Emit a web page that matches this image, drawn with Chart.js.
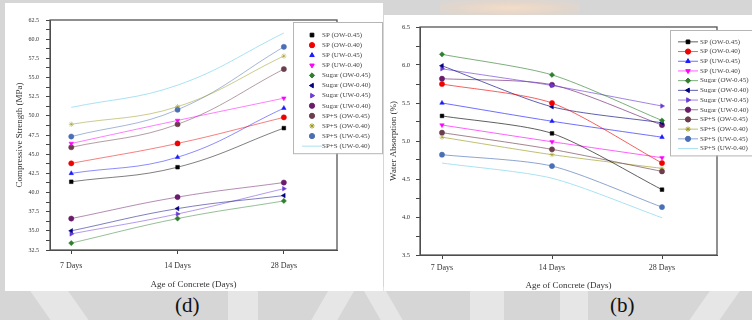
<!DOCTYPE html>
<html>
<head>
<meta charset="utf-8">
<script src="https://cdn.jsdelivr.net/npm/chart.js@4.4.1/dist/chart.umd.min.js"></script>
<style>
  html, body { margin: 0; padding: 0; }
  body {
    width: 752px; height: 320px; position: relative; overflow: hidden;
    background: #d6d6d6;
    font-family: "Liberation Serif", serif;
  }
  .wm { position: absolute; background: #e6e6e6; }
  .panel { position: absolute; background: #fff; }
  #leftPanel  { left: 5px;   top: 3px;  width: 378px; height: 288px; }
  #rightPanel { left: 384px; top: 15px; width: 368px; height: 276px; }
  .cap { position: absolute; top: 292px; font-size: 21px; line-height: 26px; color: #111; }
</style>
</head>
<body>
<!-- faint watermark behind the panels -->
<div class="wm" style="left:40px;top:270px;width:38px;height:70px;transform:skewX(35deg)"></div>
<div class="wm" style="left:228px;top:280px;width:30px;height:60px;"></div>
<div class="wm" style="left:320px;top:270px;width:26px;height:70px;transform:skewX(-30deg)"></div>
<div class="wm" style="left:372px;top:270px;width:22px;height:70px;transform:skewX(30deg)"></div>
<div class="wm" style="left:470px;top:280px;width:34px;height:60px;"></div>
<div class="wm" style="left:560px;top:280px;width:28px;height:60px;"></div>
<div class="wm" style="left:700px;top:270px;width:30px;height:70px;transform:skewX(-35deg)"></div>
<div class="wm" style="left:440px;top:0px;width:140px;height:16px;background:radial-gradient(ellipse at center,#f3dcc6 0%,#e2d6cc 55%,rgba(214,214,214,0) 100%)"></div>

<div class="panel" id="leftPanel"><canvas id="strengthChart" width="378" height="288"></canvas></div>
<div class="panel" id="rightPanel"><canvas id="absorptionChart" width="368" height="276"></canvas></div>
<div class="cap" style="left:175px">(d)</div>
<div class="cap" style="left:610px">(b)</div>

<script>
// ---- data ----
const ages = ['7 Days', '14 Days', '28 Days'];
const mixNames = [
  'SP (OW-0.45)', 'SP (OW-0.40)', 'SP (UW-0.45)', 'SP (UW-0.40)',
  'Sugar (OW-0.45)', 'Sugar (OW-0.40)', 'Sugar (UW-0.45)', 'Sugar (UW-0.40)',
  'SP+S (OW-0.45)', 'SP+S (OW-0.40)', 'SP+S (UW-0.45)', 'SP+S (UW-0.40)'
];

// compressive strength (MPa)
const csSP_OW45    = [41.4, 43.3, 48.4];
const csSP_OW40    = [43.8, 46.4, 49.8];
const csSP_UW45    = [42.5, 44.6, 51.0];
const csSP_UW40    = [46.4, 49.4, 52.3];
const csSug_OW45   = [33.4, 36.6, 38.9];
const csSug_OW40   = [35.0, 37.9, 39.6];
const csSug_UW45   = [34.6, 37.2, 40.5];
const csSug_UW40   = [36.6, 39.4, 41.3];
const csSPS_OW45   = [45.9, 48.9, 56.1];
const csSPS_OW40   = [48.9, 51.2, 57.8];
const csSPS_UW45   = [47.3, 50.8, 59.0];
const csSPS_UW40   = [51.1, 54.0, 60.8];

// water absorption (%)
const waSP_OW45    = [5.33, 5.10, 4.36];
const waSP_OW40    = [5.75, 5.50, 4.71];
const waSP_UW45    = [5.50, 5.26, 5.05];
const waSP_UW40    = [5.21, 4.99, 4.78];
const waSug_OW45   = [6.14, 5.87, 5.27];
const waSug_OW40   = [5.99, 5.45, 5.24];
const waSug_UW45   = [5.95, 5.73, 5.46];
const waSug_UW40   = [5.82, 5.74, 5.21];
const waSPS_OW45   = [5.11, 4.89, 4.60];
const waSPS_OW40   = [5.05, 4.82, 4.64];
const waSPS_UW45   = [4.82, 4.67, 4.13];
const waSPS_UW40   = [4.71, 4.51, 3.99];

const strengthSeries = [csSP_OW45, csSP_OW40, csSP_UW45, csSP_UW40, csSug_OW45, csSug_OW40,
  csSug_UW45, csSug_UW40, csSPS_OW45, csSPS_OW40, csSPS_UW45, csSPS_UW40];
const absorptionSeries = [waSP_OW45, waSP_OW40, waSP_UW45, waSP_UW40, waSug_OW45, waSug_OW40,
  waSug_UW45, waSug_UW40, waSPS_OW45, waSPS_OW40, waSPS_UW45, waSPS_UW40];

// ---- styles ----
const colors = ['#000000', '#f00000', '#1a1aff', '#ff00ff', '#2f7f2f', '#000080',
  '#6a3ad6', '#6a1b6a', '#6b3d4d', '#9a9a20', '#4a6fb5', '#a9e2f2'];
const markers = ['rect', 'circle', 'triangle', 'triangle', 'rectRot', 'triangle',
  'triangle', 'circle', 'circle', 'star', 'circle', 'circle'];
const markerTurn = [0, 0, 0, 180, 0, 270, 90, 0, 0, 0, 0, 0];
const serif = '"Liberation Serif", "Times New Roman", serif';

function buildSets(series, lineAlpha, tension) {
  return series.map((vals, i) => ({
    label: mixNames[i],
    data: vals.map((v, k) => ({ x: k, y: v })),
    borderColor: i === 11 ? colors[i] : colors[i] + lineAlpha,
    borderWidth: 1,
    tension: tension,
    pointStyle: markers[i],
    pointRotation: markerTurn[i],
    pointRadius: i === 11 ? 0 : 2.6,
    pointBackgroundColor: colors[i],
    pointBorderColor: colors[i],
    pointBorderWidth: 0.5
  }));
}

// box round the plot (Origin style)
const frame = {
  id: 'frame',
  afterDatasetsDraw(chart) {
    const { ctx, chartArea: a } = chart;
    ctx.save();
    ctx.strokeStyle = '#555';
    ctx.lineWidth = 1.3;
    ctx.strokeRect(a.left, a.top, a.right - a.left, a.bottom - a.top);
    ctx.restore();
  }
};

// legend drawn over the plot like the original
const boxLegend = {
  id: 'boxLegend',
  afterDraw(chart, args, o) {
    const { ctx, chartArea } = chart;
    const sets = chart.data.datasets;
    const x0 = chartArea.right + o.dx, y0 = chartArea.top + o.dy;
    const h = o.padTop + sets.length * o.row + o.padBottom;
    ctx.save();
    ctx.fillStyle = '#fff';
    ctx.fillRect(x0, y0, o.w, h);
    ctx.strokeStyle = '#b5b5b5';
    ctx.lineWidth = 1;
    ctx.strokeRect(x0 + 0.5, y0 + 0.5, o.w, h);
    ctx.font = o.font;
    ctx.textBaseline = 'middle';
    sets.forEach((ds, i) => {
      const y = y0 + o.padTop + o.row * (i + 0.5);
      const mx = x0 + o.mark;
      if (o.lines || !ds.pointRadius) {
        ctx.strokeStyle = ds.borderColor;
        ctx.lineWidth = 1;
        ctx.beginPath();
        ctx.moveTo(mx - 10, y);
        ctx.lineTo(mx + 10, y);
        ctx.stroke();
      }
      if (ds.pointRadius) {
        ctx.fillStyle = ds.pointBackgroundColor;
        ctx.strokeStyle = ds.pointBorderColor;
        Chart.helpers.drawPoint(ctx, {
          pointStyle: ds.pointStyle, rotation: ds.pointRotation,
          radius: 2.6, borderWidth: 0.5
        }, mx, y);
      }
      ctx.fillStyle = '#444';
      ctx.fillText(ds.label, x0 + o.text, y);
    });
    ctx.restore();
  }
};

function makeChart(id, series, cfg) {
  return new Chart(document.getElementById(id), {
    type: 'line',
    data: { datasets: buildSets(series, cfg.lineAlpha, cfg.tension) },
    options: {
      responsive: false,
      animation: false,
      devicePixelRatio: 1,
      layout: { padding: cfg.padding },
      plugins: {
        legend: { display: false },
        tooltip: { enabled: false },
        boxLegend: cfg.legend
      },
      scales: {
        x: {
          type: 'linear',
          min: -0.2,
          max: 2.5,
          afterBuildTicks: s => { s.ticks = ages.map((a, k) => ({ value: k })); },
          afterFit: s => { s.height = cfg.xHeight; },
          ticks: {
            callback: v => ages[v],
            font: { family: serif, size: 8 },
            color: '#333',
            padding: cfg.xPad,
            maxRotation: 0
          },
          grid: { drawOnChartArea: false, tickLength: 4, tickColor: '#444' },
          border: { color: '#444', width: 1 },
          title: {
            display: true,
            text: 'Age of Concrete (Days)',
            font: { family: serif, size: 9 },
            color: '#333',
            padding: { top: 0, bottom: cfg.xTitlePad }
          }
        },
        y: {
          min: cfg.yMin,
          max: cfg.yMax,
          afterFit: s => { s.width = cfg.yWidth; },
          ticks: {
            stepSize: cfg.yStep / 2,
            autoSkip: false,
            callback: (v, k) => (k % 2 === 0 ? v.toFixed(1) : ''),
            font: { family: serif, size: cfg.yFont },
            color: '#333',
            padding: cfg.yPad
          },
          grid: { drawOnChartArea: false, tickLength: 4, tickColor: '#444' },
          border: { color: '#444', width: 1 },
          title: {
            display: true,
            text: cfg.yTitle,
            font: { family: serif, size: 9 },
            color: '#333',
            padding: { top: cfg.yTitlePad, bottom: 0 }
          }
        }
      }
    },
    plugins: [frame, boxLegend]
  });
}

makeChart('strengthChart', strengthSeries, {
  lineAlpha: '80',
  tension: 0.4,
  padding: { top: 17, right: 46, left: 0, bottom: 0 },
  xHeight: 41, xPad: 7, xTitlePad: 1,
  yWidth: 45, yPad: 7, yTitlePad: 9, yFont: 6,
  yMin: 32.5, yMax: 62.5, yStep: 2.5,
  yTitle: 'Compressive Strength (MPa)',
  legend: { dx: -44, dy: 2, w: 89, row: 10.1, padTop: 8, padBottom: 2,
            mark: 19, text: 29, lines: false, font: '7px ' + serif }
});

makeChart('absorptionChart', absorptionSeries, {
  lineAlpha: 'a0',
  tension: 0.25,
  padding: { top: 12, right: 35, left: 0, bottom: 0 },
  xHeight: 36, xPad: 4, xTitlePad: 0,
  yWidth: 36, yPad: 6, yTitlePad: 4, yFont: 6.5,
  yMin: 3.5, yMax: 6.5, yStep: 0.5,
  yTitle: 'Water Absorption (%)',
  legend: { dx: -47, dy: 3, w: 95, row: 9.7, padTop: 7, padBottom: 2,
            mark: 18, text: 30, lines: true, font: '7px ' + serif }
});
</script>
</body>
</html>
